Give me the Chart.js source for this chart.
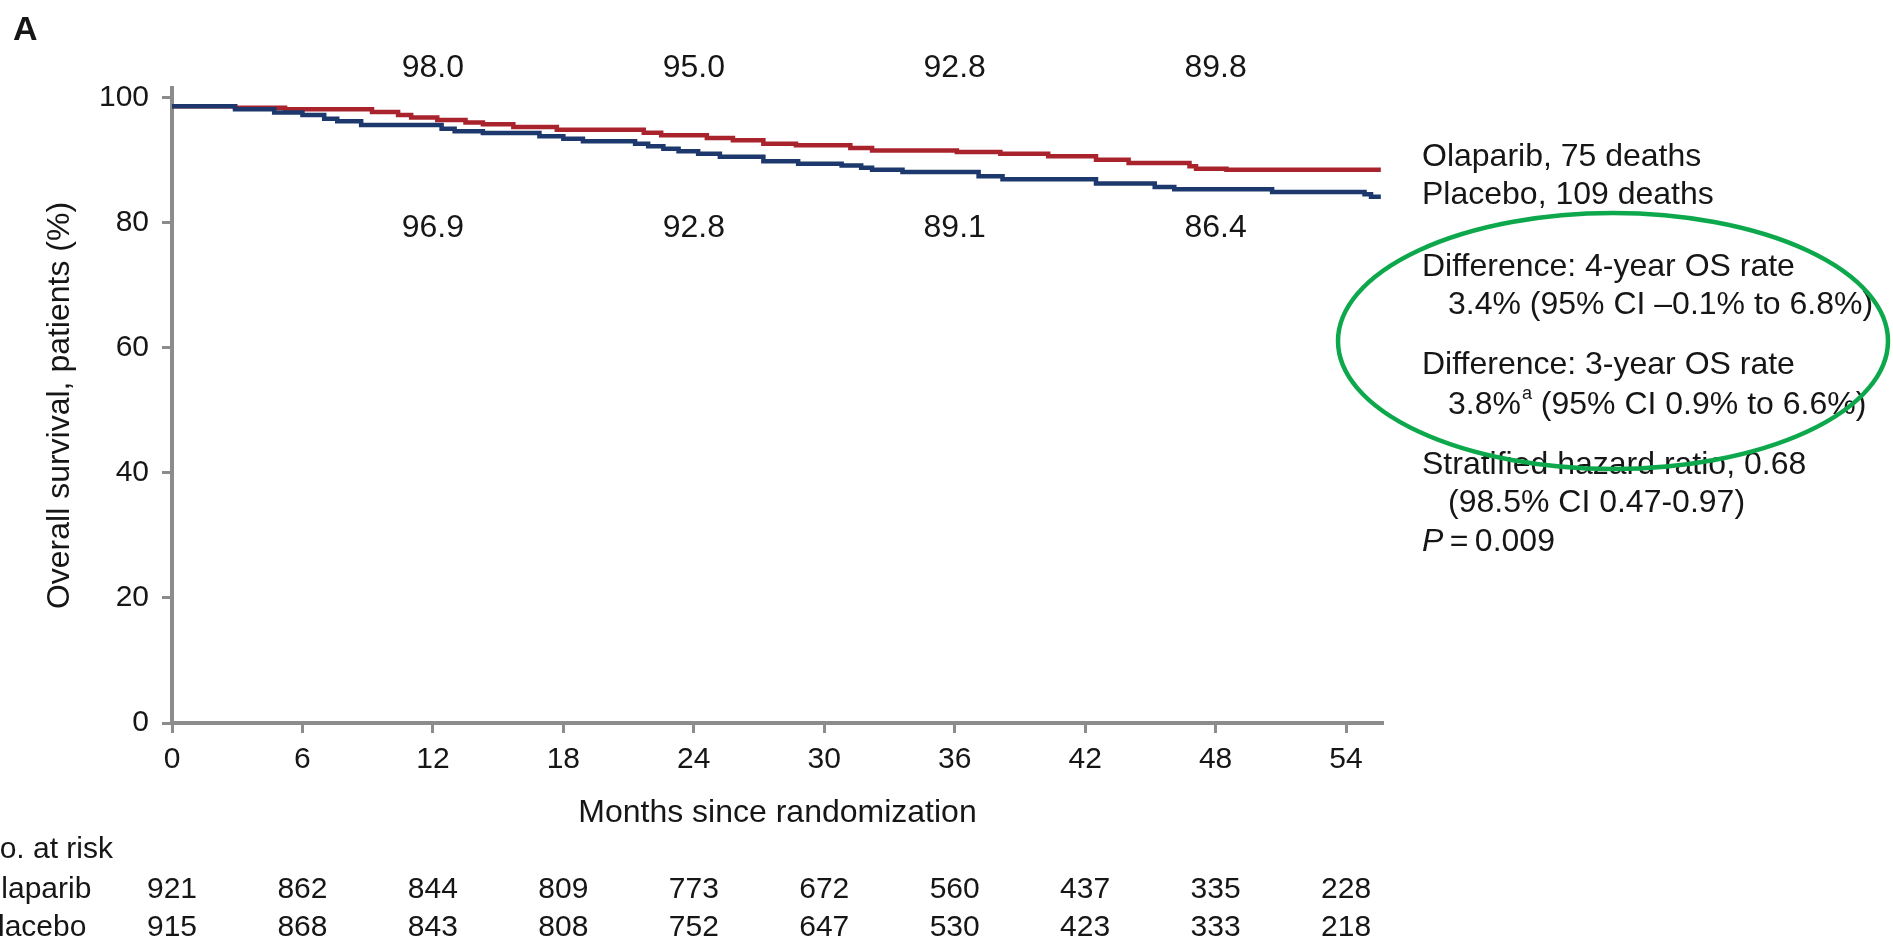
<!DOCTYPE html>
<html>
<head>
<meta charset="utf-8">
<title>Overall survival</title>
<script src="https://cdn.jsdelivr.net/npm/chart.js@4.4.0/dist/chart.umd.min.js"></script>
<style>
    html, body { margin: 0; padding: 0; background: #ffffff; }
    #osChart { display: block; }
</style>
</head>
<body>
<canvas id="osChart" width="1893" height="943"></canvas>
<script>
// Kaplan-Meier steps (months, % alive)
const olapMonths = [0, 2.9, 5.2, 9.2, 10.4, 11.0, 12.2, 13.5, 14.3, 15.7, 17.7, 21.7, 22.5, 24.6, 25.8, 27.2, 28.7, 31.2, 32.2, 36.1, 38.1, 40.3, 42.5, 44.0, 46.8, 47.1, 48.5, 55.6];
const olapSurv = [98.6, 98.35, 98.1, 97.65, 97.2, 96.8, 96.4, 96.0, 95.7, 95.26, 94.84, 94.36, 93.93, 93.5, 93.13, 92.6, 92.33, 91.9, 91.5, 91.27, 91.0, 90.58, 90.05, 89.5, 89.0, 88.6, 88.45, 88.45];

const placMonths = [0, 2.9, 4.7, 6.0, 7.0, 7.6, 8.7, 12.4, 13.0, 14.3, 16.9, 18.0, 18.9, 21.3, 21.9, 22.6, 23.3, 24.2, 25.2, 27.2, 28.8, 30.8, 31.7, 32.2, 33.6, 37.1, 38.2, 42.5, 45.2, 46.1, 50.6, 54.85, 55.15, 55.6];
const placSurv = [98.6, 98.1, 97.6, 97.2, 96.6, 96.2, 95.6, 95.0, 94.6, 94.3, 93.8, 93.4, 92.97, 92.6, 92.17, 91.8, 91.4, 91.0, 90.5, 89.8, 89.4, 89.1, 88.77, 88.45, 88.07, 87.38, 86.9, 86.25, 85.67, 85.3, 84.88, 84.5, 84.1, 84.1];

// rates printed above / below the curves
const rateMonths = [12, 24, 36, 48];
const olapRates = ['98.0', '95.0', '92.8', '89.8'];
const placRates = ['96.9', '92.8', '89.1', '86.4'];

// number at risk table
const riskMonths = [0, 6, 12, 18, 24, 30, 36, 42, 48, 54];
const olapRisk = [921, 862, 844, 809, 773, 672, 560, 437, 335, 228];
const placRisk = [915, 868, 843, 808, 752, 647, 530, 423, 333, 218];

// axis ticks
const xTicks = [0, 6, 12, 18, 24, 30, 36, 42, 48, 54];
const yTicks = [0, 20, 40, 60, 80, 100];

const FONT = '"Liberation Sans", Arial, Helvetica, sans-serif';
const INK = '#161616';
const AXIS = '#8c8c8c';
const RED = '#a8232c';
const BLUE = '#1c386c';

function toPoints(xs, ys) {
    return xs.map((x, i) => ({ x: x, y: ys[i] }));
}

// all the text around the plot
const annotations = {
    id: 'annotations',
    afterDraw(chart) {
        const ctx = chart.ctx;
        const xs = chart.scales.x;
        ctx.save();
        ctx.fillStyle = INK;
        ctx.textBaseline = 'middle';

        // panel letter
        ctx.font = 'bold 34px ' + FONT;
        ctx.textAlign = 'left';
        ctx.fillText('A', 13, 31);

        // rates at 1, 2, 3, 4 years
        ctx.font = '32px ' + FONT;
        ctx.textAlign = 'center';
        rateMonths.forEach((m, i) => {
            const px = xs.getPixelForValue(m);
            ctx.fillText(olapRates[i], px, 68);
            ctx.fillText(placRates[i], px, 228);
        });

        // legend and statistics on the right
        ctx.textAlign = 'left';
        const lx = 1422, ix = 1448;
        ctx.fillText('Olaparib, 75 deaths', lx, 157);
        ctx.fillText('Placebo, 109 deaths', lx, 195);
        ctx.fillText('Difference: 4-year OS rate', lx, 267);
        ctx.fillText('3.4% (95% CI \u20130.1% to 6.8%)', ix, 305);
        ctx.fillText('Difference: 3-year OS rate', lx, 365);
        let t = '3.8%';
        ctx.fillText(t, ix, 405);
        let w = ctx.measureText(t).width;
        ctx.font = '18px ' + FONT;
        ctx.fillText('a', ix + w + 1, 394);
        w += ctx.measureText('a').width + 1;
        ctx.font = '32px ' + FONT;
        ctx.fillText(' (95% CI 0.9% to 6.6%)', ix + w, 405);
        ctx.fillText('Stratified hazard ratio, 0.68', lx, 465);
        ctx.fillText('(98.5% CI 0.47-0.97)', ix, 503);
        ctx.font = 'italic 32px ' + FONT;
        ctx.fillText('P', lx, 542);
        w = ctx.measureText('P').width;
        ctx.font = '32px ' + FONT;
        ctx.fillText('\u2009=\u20090.009', lx + w, 542);

        // number at risk
        ctx.font = '30px ' + FONT;
        ctx.fillText('No. at risk', -22, 850);
        ctx.fillText('Olaparib', -22, 890);
        ctx.fillText('Placebo', -22, 928);
        ctx.textAlign = 'center';
        riskMonths.forEach((m, i) => {
            const px = xs.getPixelForValue(m);
            ctx.fillText(String(olapRisk[i]), px, 890);
            ctx.fillText(String(placRisk[i]), px, 928);
        });

        // green highlight ring
        ctx.beginPath();
        ctx.ellipse(1613, 341, 275, 128, 0, 0, Math.PI * 2);
        ctx.strokeStyle = '#0da84c';
        ctx.lineWidth = 4.5;
        ctx.stroke();
        ctx.restore();
    }
};

document.addEventListener('DOMContentLoaded', function() {
    const ctx = document.getElementById('osChart').getContext('2d');
    window.osChart = new Chart(ctx, {
        type: 'line',
        data: {
            datasets: [{
                label: 'Placebo',
                data: toPoints(placMonths, placSurv),
                borderColor: BLUE,
                borderWidth: 4.5,
                stepped: true,
                pointRadius: 0,
                fill: false
            }, {
                label: 'Olaparib',
                data: toPoints(olapMonths, olapSurv),
                borderColor: RED,
                borderWidth: 4.5,
                stepped: true,
                pointRadius: 0,
                fill: false
            }]
        },
        options: {
            responsive: false,
            animation: false,
            devicePixelRatio: 1,
            layout: {
                padding: { left: 0, top: 88, right: 510, bottom: 110 }
            },
            plugins: {
                legend: { display: false },
                tooltip: { enabled: false }
            },
            scales: {
                x: {
                    type: 'linear',
                    min: 0,
                    max: 55.7,
                    afterFit: scale => { scale.height = 110; },
                    afterBuildTicks: scale => {
                        scale.ticks = xTicks.map(v => ({ value: v }));
                    },
                    grid: {
                        drawOnChartArea: false,
                        drawTicks: true,
                        tickLength: 10,
                        tickWidth: 3,
                        tickColor: AXIS
                    },
                    border: { color: AXIS, width: 4 },
                    ticks: {
                        font: { family: FONT, size: 30 },
                        color: INK,
                        padding: 9,
                        maxRotation: 0
                    },
                    title: {
                        display: true,
                        text: 'Months since randomization',
                        font: { family: FONT, size: 32 },
                        color: INK,
                        padding: { top: 0, bottom: 1 }
                    }
                },
                y: {
                    min: 0,
                    max: 101.5,
                    afterFit: scale => { scale.width = 172; },
                    afterBuildTicks: scale => {
                        scale.ticks = yTicks.map(v => ({ value: v }));
                    },
                    grid: {
                        drawOnChartArea: false,
                        drawTicks: true,
                        tickLength: 10,
                        tickWidth: 3,
                        tickColor: AXIS
                    },
                    border: { color: AXIS, width: 4 },
                    ticks: {
                        font: { family: FONT, size: 30 },
                        color: INK,
                        padding: 13
                    },
                    title: {
                        display: true,
                        text: 'Overall survival, patients (%)',
                        font: { family: FONT, size: 32 },
                        color: INK,
                        padding: { top: 41, bottom: 0 }
                    }
                }
            }
        },
        plugins: [annotations]
    });
});
</script>
</body>
</html>
